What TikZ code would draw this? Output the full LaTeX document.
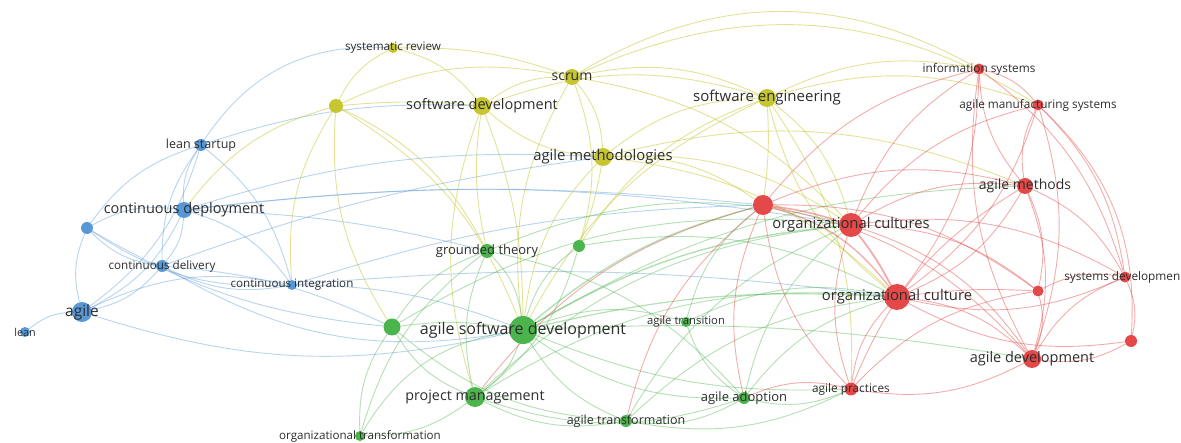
\documentclass[tikz,border=0pt]{standalone}
\usepackage{fontspec}
\setmainfont{Open Sans}
\newcommand\myfs[1]{\fontsize{#1}{#1}\selectfont}
\pgfdeclarelayer{bg}
\pgfsetlayers{bg,main}
\definecolor{bluec}{RGB}{88,152,214}
\definecolor{yelc}{RGB}{198,198,48}
\definecolor{grnc}{RGB}{76,180,76}
\definecolor{redc}{RGB}{228,72,72}
\definecolor{labc}{RGB}{45,45,45}
\tikzset{
  nd/.style={circle, inner sep=0pt, minimum size=#1},
  lab/.style={text=labc, inner sep=0pt},
  eB/.style={draw=bluec, line width=0.9pt, opacity=0.42},
  eY/.style={draw=yelc, line width=0.9pt, opacity=0.5},
  eG/.style={draw=grnc, line width=0.9pt, opacity=0.42},
  eR/.style={draw=redc, line width=0.9pt, opacity=0.45},
  bl/.style={bend left=18},
  br/.style={bend right=18},
}
\begin{document}
\begin{tikzpicture}[x=1pt,y=-1pt]
\useasboundingbox (0,0) rectangle (1181,443);
% ---------- blue cluster
\node[nd=12, fill=bluec, label={[lab,font=\myfs{12.5}]center:lean startup}] (ls) at (201,145) {};
\node[nd=16, fill=bluec, label={[lab,font=\myfs{14.5}]center:continuous deployment}] (cdp) at (184,210) {};
\node[nd=12, fill=bluec] (bu) at (87,228) {};
\node[nd=12, fill=bluec, label={[lab,font=\myfs{11.7}]center:continuous delivery}] (cdl) at (162,266) {};
\node[nd=10, fill=bluec, label={[lab,font=\myfs{11.6}]center:continuous integration}] (ci) at (292,285) {};
\node[nd=20, fill=bluec, label={[lab,font=\myfs{15.5}]center:agile}] (ag) at (82,312) {};
\node[nd=10, fill=bluec, label={[lab,font=\myfs{10.8}]center:lean}] (ln) at (25,332) {};
% ---------- yellow cluster
\node[nd=10, fill=yelc, label={[lab,font=\myfs{11.7}]center:systematic review}] (sr) at (393,48) {};
\node[nd=14, fill=yelc] (yu) at (336,106) {};
\node[nd=18, fill=yelc, label={[lab,font=\myfs{14.5}]center:software development}] (sd) at (482,106) {};
\node[nd=16, fill=yelc, label={[lab,font=\myfs{14}]center:scrum}] (sc) at (572,77) {};
\node[nd=18, fill=yelc, label={[lab,font=\myfs{14.8}]center:agile methodologies}] (am) at (603,157) {};
\node[nd=18, fill=yelc, label={[lab,font=\myfs{15}]center:software engineering}] (se) at (767,98) {};
% ---------- green cluster
\node[nd=14, fill=grnc, label={[lab,font=\myfs{13}]center:grounded theory}] (gt) at (487,251) {};
\node[nd=12, fill=grnc] (gu) at (579,246) {};
\node[nd=17, fill=grnc] (gb) at (392,327) {};
\node[nd=28, fill=grnc, label={[lab,font=\myfs{16}]center:agile software development}] (asd) at (523,330) {};
\node[nd=10, fill=grnc, label={[lab,font=\myfs{11.3}]center:agile transition}] (atr) at (686,322) {};
\node[nd=20, fill=grnc, label={[lab,font=\myfs{14.3}]center:project management}] (pm) at (475,397) {};
\node[nd=12, fill=grnc, label={[lab,font=\myfs{12.5}]center:agile transformation}] (atf) at (626,421) {};
\node[nd=10, fill=grnc, label={[lab,font=\myfs{11.6}]center:organizational transformation}] (ot) at (360,436) {};
\node[nd=12, fill=grnc, label={[lab,font=\myfs{13}]center:agile adoption}] (ad) at (744,398) {};
% ---------- red cluster
\node[nd=20, fill=redc] (ru) at (763,205) {};
\node[nd=24, fill=redc, label={[lab,font=\myfs{14.8}]center:organizational cultures}] (ocs) at (851,225) {};
\node[nd=11, fill=redc, label={[lab,font=\myfs{11.8}]center:information systems}] (infs) at (979,69) {};
\node[nd=11, fill=redc, label={[lab,font=\myfs{11.8}]center:agile manufacturing systems}] (ams) at (1038,105) {};
\node[nd=16, fill=redc, label={[lab,font=\myfs{14}]center:agile methods}] (amt) at (1025,186) {};
\node[nd=26, fill=redc, label={[lab,font=\myfs{14.8}]center:organizational culture}] (oc) at (897,297) {};
\node[nd=11, fill=redc] (r1) at (1038,291) {};
\node[nd=11, fill=redc] (sysd) at (1125,277) {};
\node[lab, font=\myfs{11.8}, anchor=east] (sysdl) at (1180.5,277) {systems developmen};
\node[nd=12, fill=redc] (r2) at (1131,341) {};
\node[nd=18, fill=redc, label={[lab,font=\myfs{14.5}]center:agile development}] (adev) at (1032,359) {};
\node[nd=13, fill=redc, label={[lab,font=\myfs{11.8}]center:agile practices}] (ap) at (851,389) {};
% ---------- connectors
\begin{pgfonlayer}{bg}
% blue
\draw[eB] (ln) to[bl] (ag);
\draw[eB] (ag) to[bl] (bu);
\draw[eB] (ag) to[br] (cdl);
\draw[eB] (ag) to[br] (cdp);
\draw[eB] (ag) to[bl] (ci);
\draw[eB] (ag) to[br] (ls);
\draw[eB] (bu) to[bl] (cdp);
\draw[eB] (bu) to[br] (cdl);
\draw[eB] (bu) to[bl] (ls);
\draw[eB] (bu) to[br] (ci);
\draw[eB] (ls) to[br] (cdp);
\draw[eB] (ls) to[br] (cdl);
\draw[eB] (ls) to[bl] (ci);
\draw[eB] (cdp) to[bl] (cdl);
\draw[eB] (cdp) to[bl] (ci);
\draw[eB] (cdl) to[br] (ci);
\draw[eB] (ls) to[bend left=30] (sr);
\draw[eB] (ls) to[bend left=10] (sd);
\draw[eB] (cdp) to[bend left=10] (am);
\draw[eB] (cdp) to[bend left=8] (ocs);
\draw[eB] (cdp) to[bend left=6] (gt);
\draw[eB] (cdp) to[bend left=6] (ru);
\draw[eB] (cdl) to[bend right=20] (asd);
\draw[eB] (ag) to[bend right=15] (asd);
\draw[eB] (bu) to[bend right=12] (gb);
\draw[eB] (ci) to[bend left=10] (asd);
\draw[eB] (ci) to[bend left=8] (ru);
\draw[eB] (ci) to[bend left=6] (oc);
\draw[eB] (cdl) to[bend left=10] (gb);
\draw[eB] (cdl) to[bend left=6] (am);
% yellow
\draw[eY] (sr) to[br] (yu);
\draw[eY] (sr) to[bl] (sd);
\draw[eY] (sr) to[bend left=10] (sc);
\draw[eY] (yu) to[bend left=5] (sd);
\draw[eY] (yu) to[bl] (sc);
\draw[eY] (yu) to[br] (gb);
\draw[eY] (yu) to[bl] (asd);
\draw[eY] (yu) to[bl] (gt);
\draw[eY] (yu) to[br] (cdp);
\draw[eY] (yu) to[br] (ci);
\draw[eY] (sd) to[bl] (sc);
\draw[eY] (sd) to[br] (am);
\draw[eY] (sd) to[bend right=10] (gt);
\draw[eY] (sd) to[bend left=10] (asd);
\draw[eY] (sd) to[br] (pm);
\draw[eY] (sd) to[bl] (se);
\draw[eY] (sc) to[bl] (am);
\draw[eY] (sc) to[bl] (se);
\draw[eY] (sc) to[bend left=30] (infs);
\draw[eY] (sc) to[bend left=28] (ams);
\draw[eY] (sc) to[br] (asd);
\draw[eY] (sc) to[bl] (gu);
\draw[eY] (sc) to[bl] (ocs);
\draw[eY] (am) to[bl] (se);
\draw[eY] (am) to[bend left=5] (gu);
\draw[eY] (am) to[br] (asd);
\draw[eY] (am) to[bl] (ru);
\draw[eY] (am) to[bl] (ocs);
\draw[eY] (am) to[bl] (oc);
\draw[eY] (am) to[bl] (amt);
\draw[eY] (se) to[bend left=5] (ru);
\draw[eY] (se) to[bl] (ocs);
\draw[eY] (se) to[br] (oc);
\draw[eY] (se) to[bl] (infs);
\draw[eY] (se) to[bl] (ams);
\draw[eY] (se) to[br] (asd);
\draw[eY] (se) to[bl] (ap);
\draw[eY] (se) to[br] (gu);
% green
\draw[eG] (gt) to[bl] (asd);
\draw[eG] (gt) to[br] (gb);
\draw[eG] (gt) to[br] (pm);
\draw[eG] (gt) to[br] (ot);
\draw[eG] (gt) to[bl] (ad);
\draw[eG] (gt) to[bl] (ocs);
\draw[eG] (gu) to[br] (asd);
\draw[eG] (gu) to[bl] (pm);
\draw[eG] (gu) to[bl] (oc);
\draw[eG] (gb) to[bend left=8] (asd);
\draw[eG] (gb) to[br] (pm);
\draw[eG] (gb) to[br] (ot);
\draw[eG] (gb) to[br] (atf);
\draw[eG] (gb) to[bl] (ocs);
\draw[eG] (asd) to[bl] (pm);
\draw[eG] (asd) to[br] (atf);
\draw[eG] (asd) to[bl] (atr);
\draw[eG] (asd) to[br] (ad);
\draw[eG, line width=1.4pt] (asd) to[bend left=12] (ru);
\draw[eG, line width=1.4pt] (asd) to[bend left=12] (ocs);
\draw[eG, line width=1.2pt] (asd) to[bend left=8] (oc);
\draw[eG] (asd) to[bend right=12] (ap);
\draw[eG] (asd) to[bend left=6] (adev);
\draw[eG] (asd) to[bend left=14] (amt);
\draw[eG] (asd) to[bend right=25] (ot);
\draw[eG] (pm) to[br] (atf);
\draw[eG] (pm) to[br] (ad);
\draw[eG] (pm) to[bl] (ocs);
\draw[eG] (pm) to[bl] (oc);
\draw[eG] (atf) to[br] (ad);
\draw[eG] (atf) to[bl] (ocs);
\draw[eG] (atf) to[bl] (oc);
\draw[eG] (atf) to[br] (ap);
\draw[eG] (atr) to[br] (ad);
\draw[eG] (atr) to[bl] (oc);
\draw[eG] (atr) to[bl] (ru);
\draw[eG] (ad) to[bl] (ocs);
\draw[eG] (ad) to[bl] (oc);
\draw[eG] (ad) to[br] (ap);
\draw[eG] (ot) to[br] (pm);
% red
\draw[eR, line width=1.6pt] (ru) to[bend left=5] (ocs);
\draw[eR, line width=1.3pt] (ru) to[bl] (oc);
\draw[eR] (ru) to[bl] (amt);
\draw[eR] (ru) to[br] (ap);
\draw[eR] (ru) to[bl] (adev);
\draw[eR] (ru) to[bl] (infs);
\draw[eR] (ru) to[br] (ad);
\draw[eR] (ru) to[br] (pm);
\draw[eR] (ru) to[br] (atf);
\draw[eR] (ru) to[bl] (r1);
\draw[eR, line width=1.8pt] (ocs) to[bend left=5] (oc);
\draw[eR] (ocs) to[bl] (amt);
\draw[eR] (ocs) to[bl] (ams);
\draw[eR] (ocs) to[bl] (infs);
\draw[eR] (ocs) to[br] (ap);
\draw[eR] (ocs) to[bl] (adev);
\draw[eR] (ocs) to[bl] (r1);
\draw[eR] (ocs) to[bl] (sysd);
\draw[eR] (oc) to[br] (amt);
\draw[eR] (oc) to[bend left=5] (r1);
\draw[eR] (oc) to[bl] (adev);
\draw[eR] (oc) to[br] (ap);
\draw[eR] (oc) to[br] (sysd);
\draw[eR] (oc) to[br] (infs);
\draw[eR] (oc) to[br] (ams);
\draw[eR] (oc) to[br] (r2);
\draw[eR] (infs) to[bl] (ams);
\draw[eR] (infs) to[br] (amt);
\draw[eR] (infs) to[bl] (sysd);
\draw[eR] (infs) to[br] (adev);
\draw[eR] (ams) to[br] (amt);
\draw[eR] (ams) to[bl] (sysd);
\draw[eR] (ams) to[bend left=25] (r2);
\draw[eR] (ams) to[bl] (adev);
\draw[eR] (amt) to[bl] (r1);
\draw[eR] (amt) to[bl] (adev);
\draw[eR] (amt) to[bl] (sysd);
\draw[eR] (amt) to[br] (ap);
\draw[eR] (sysd) to[bl] (r2);
\draw[eR] (sysd) to[br] (adev);
\draw[eR] (sysd) to[br] (r1);
\draw[eR] (adev) to[br] (r2);
\draw[eR] (adev) to[bl] (ap);
\draw[eR] (adev) to[br] (r1);
\draw[eR] (ap) to[br] (ad);
\draw[eR] (ap) to[bl] (r1);
\end{pgfonlayer}
\end{tikzpicture}
\end{document}
